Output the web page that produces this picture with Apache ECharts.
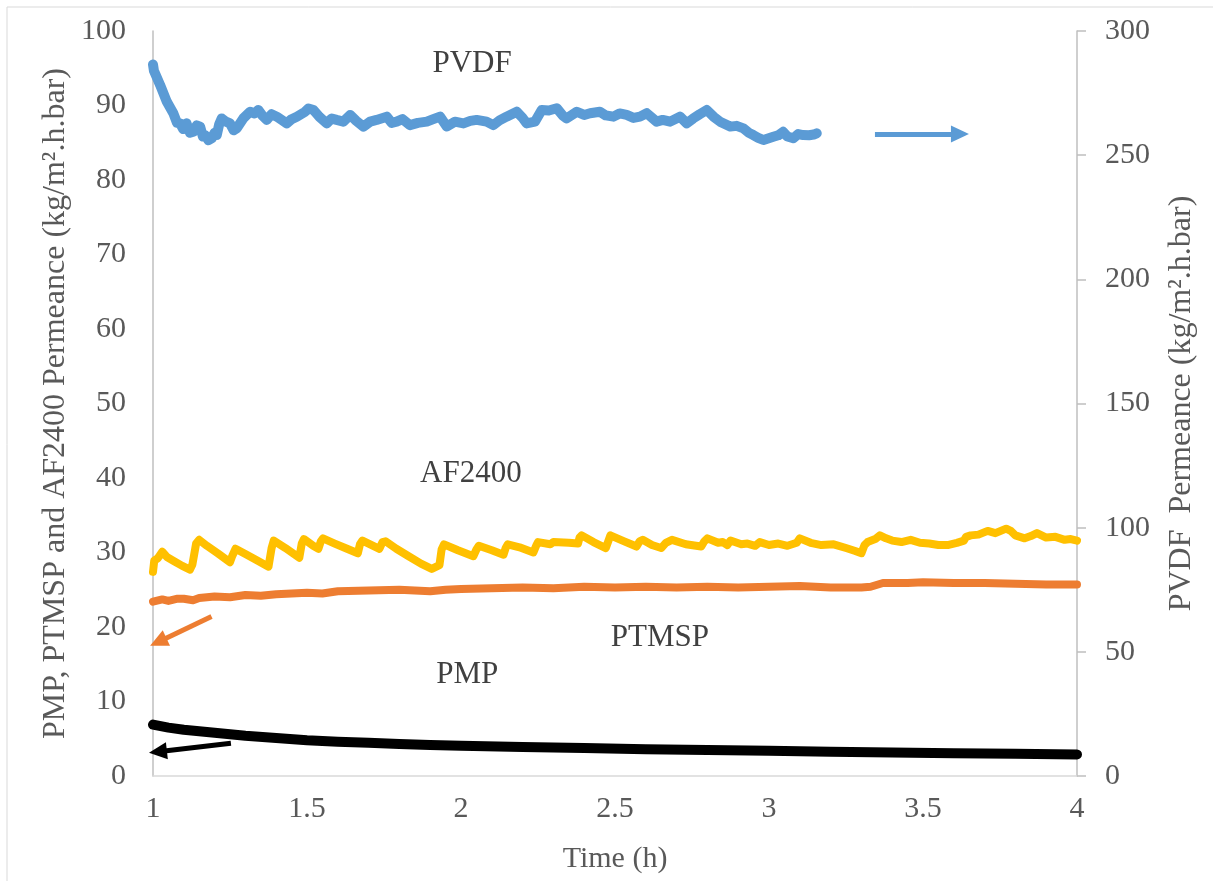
<!DOCTYPE html>
<html lang="en">
  <head>
    <meta charset="UTF-8" />
    <title>Permeance vs Time</title>
    <script src="https://cdn.jsdelivr.net/npm/echarts@6/dist/echarts.min.js"></script>
    <style>
      body {
        margin: 0;
        padding: 0;
        background: #ffffff;
      }
      #chart {
        width: 1213px;
        height: 881px;
      }
    </style>
  </head>
  <body>
    <div id="chart"></div>

    <script>
      // x axis ticks (h)
      var timeTicks = [1, 1.5, 2, 2.5, 3, 3.5, 4];

      // PVDF permeance, right axis [time, value]
      var pvdfData = [
        [1.000, 286.5], [1.003, 284.0], [1.023, 278.3], [1.045, 271.5], [1.066, 266.9],
        [1.078, 263.0], [1.088, 262.8], [1.098, 260.5], [1.109, 262.8], [1.120, 259.0],
        [1.131, 259.4], [1.142, 262.0], [1.153, 261.5], [1.162, 257.5], [1.169, 258.1],
        [1.180, 256.0], [1.191, 256.8], [1.200, 259.0], [1.207, 258.1], [1.215, 262.5],
        [1.223, 264.8], [1.237, 263.5], [1.250, 262.8], [1.262, 260.0], [1.272, 260.8],
        [1.293, 264.8], [1.315, 267.5], [1.330, 266.8], [1.342, 268.2], [1.355, 266.0],
        [1.369, 264.2], [1.385, 266.5], [1.402, 265.5], [1.420, 264.0], [1.434, 262.8],
        [1.450, 264.5], [1.467, 265.5], [1.494, 267.5], [1.505, 268.8], [1.521, 268.2],
        [1.540, 265.5], [1.564, 262.8], [1.580, 264.8], [1.596, 264.2], [1.618, 263.5],
        [1.640, 266.2], [1.660, 263.8], [1.683, 261.5], [1.705, 263.5], [1.726, 264.2],
        [1.759, 265.5], [1.775, 263.0], [1.791, 263.5], [1.810, 264.5], [1.834, 262.1],
        [1.860, 263.0], [1.889, 263.5], [1.910, 264.5], [1.932, 265.5], [1.954, 261.5],
        [1.980, 263.5], [2.008, 262.8], [2.030, 263.8], [2.051, 264.2], [2.083, 263.5],
        [2.105, 262.1], [2.125, 264.0], [2.148, 265.5], [2.181, 267.5], [2.200, 265.0],
        [2.213, 262.8], [2.240, 263.5], [2.262, 268.2], [2.285, 268.0], [2.311, 268.9],
        [2.330, 266.0], [2.343, 264.8], [2.376, 267.5], [2.400, 266.2], [2.419, 266.9],
        [2.451, 267.5], [2.470, 266.0], [2.495, 265.5], [2.515, 266.8], [2.538, 266.2],
        [2.560, 265.0], [2.581, 265.5], [2.603, 266.9], [2.635, 263.5], [2.655, 264.2],
        [2.679, 263.5], [2.711, 265.5], [2.733, 262.8], [2.754, 264.8], [2.775, 266.5],
        [2.798, 268.2], [2.820, 265.5], [2.841, 263.5], [2.874, 261.5], [2.895, 261.8],
        [2.917, 260.8], [2.935, 259.0], [2.949, 258.1], [2.965, 257.0], [2.982, 256.1],
        [3.014, 257.4], [3.030, 258.0], [3.046, 259.4], [3.060, 257.5], [3.079, 256.8],
        [3.095, 258.5], [3.111, 258.1], [3.130, 258.0], [3.145, 258.3], [3.155, 258.8]
      ];

      // AF2400 permeance, left axis [time, value]
      var af2400Data = [
        [1.000, 27.4], [1.004, 28.9], [1.015, 29.2], [1.030, 30.1], [1.045, 29.4],
        [1.070, 28.8], [1.095, 28.2], [1.120, 27.7], [1.128, 28.4], [1.140, 31.2],
        [1.150, 31.7], [1.175, 30.9], [1.210, 29.9], [1.250, 28.7], [1.258, 29.6],
        [1.268, 30.5], [1.300, 29.8], [1.340, 28.9], [1.375, 28.1], [1.385, 30.6],
        [1.392, 31.6], [1.430, 30.6], [1.475, 29.3], [1.483, 31.2], [1.490, 31.8],
        [1.520, 30.9], [1.537, 30.5], [1.545, 31.5], [1.552, 31.9], [1.590, 31.2],
        [1.630, 30.5], [1.665, 29.9], [1.672, 31.1], [1.680, 31.6], [1.710, 31.0],
        [1.735, 30.5], [1.745, 31.4], [1.755, 31.5], [1.790, 30.5], [1.830, 29.5],
        [1.870, 28.5], [1.905, 27.8], [1.930, 28.3], [1.937, 30.4], [1.945, 31.1],
        [1.990, 30.3], [2.040, 29.5], [2.050, 30.4], [2.058, 30.9], [2.100, 30.3],
        [2.138, 29.7], [2.145, 30.6], [2.152, 31.1], [2.190, 30.7], [2.235, 30.0],
        [2.245, 31.0], [2.250, 31.4], [2.290, 31.1], [2.300, 31.4], [2.350, 31.3],
        [2.380, 31.2], [2.385, 32.0], [2.392, 32.3], [2.430, 31.4], [2.470, 30.6],
        [2.478, 31.5], [2.485, 32.3], [2.530, 31.5], [2.570, 30.8], [2.580, 31.5],
        [2.590, 31.7], [2.620, 31.0], [2.650, 30.6], [2.665, 31.3], [2.685, 31.7],
        [2.730, 31.1], [2.780, 30.8], [2.790, 31.5], [2.800, 31.9], [2.835, 31.3],
        [2.850, 31.4], [2.865, 31.0], [2.875, 31.6], [2.910, 31.1], [2.930, 31.2],
        [2.955, 30.9], [2.970, 31.4], [3.000, 31.0], [3.030, 31.2], [3.060, 30.9],
        [3.090, 31.3], [3.100, 31.9], [3.135, 31.3], [3.170, 31.0], [3.210, 31.1],
        [3.250, 30.6], [3.280, 30.2], [3.300, 29.9], [3.310, 31.0], [3.320, 31.4],
        [3.345, 31.8], [3.360, 32.3], [3.380, 31.9], [3.400, 31.6], [3.430, 31.4],
        [3.460, 31.7], [3.490, 31.3], [3.520, 31.2], [3.550, 31.0], [3.580, 31.0],
        [3.610, 31.3], [3.633, 31.6], [3.640, 32.1], [3.655, 32.3], [3.680, 32.4],
        [3.710, 32.9], [3.735, 32.6], [3.770, 33.2], [3.785, 32.9], [3.800, 32.3],
        [3.830, 31.9], [3.850, 32.2], [3.870, 32.6], [3.900, 32.0], [3.930, 32.1],
        [3.960, 31.7], [3.980, 31.8], [4.000, 31.6]
      ];

      // PTMSP permeance, left axis [time, value]
      var ptmspData = [
        [1.00, 23.4], [1.03, 23.7], [1.05, 23.5], [1.08, 23.8], [1.10, 23.8],
        [1.13, 23.6], [1.15, 23.9], [1.20, 24.1], [1.25, 24.0], [1.30, 24.3],
        [1.35, 24.2], [1.40, 24.4], [1.45, 24.5], [1.50, 24.6], [1.55, 24.5],
        [1.60, 24.8], [1.70, 24.9], [1.80, 25.0], [1.90, 24.8], [1.95, 25.0],
        [2.00, 25.1], [2.10, 25.2], [2.20, 25.3], [2.30, 25.2], [2.40, 25.4],
        [2.50, 25.3], [2.60, 25.4], [2.70, 25.3], [2.80, 25.4], [2.90, 25.3],
        [3.00, 25.4], [3.10, 25.5], [3.20, 25.3], [3.30, 25.3], [3.33, 25.4],
        [3.37, 25.9], [3.45, 25.9], [3.50, 26.0], [3.60, 25.9], [3.70, 25.9],
        [3.80, 25.8], [3.90, 25.7], [4.00, 25.7]
      ];

      // PMP permeance, left axis [time, value]
      var pmpData = [
        [1.00, 6.9], [1.05, 6.5], [1.10, 6.2], [1.20, 5.8], [1.30, 5.4],
        [1.40, 5.1], [1.50, 4.8], [1.60, 4.6], [1.70, 4.45], [1.80, 4.3],
        [1.90, 4.15], [2.00, 4.05], [2.20, 3.9], [2.40, 3.75], [2.60, 3.6],
        [2.80, 3.5], [3.00, 3.4], [3.20, 3.25], [3.40, 3.15], [3.60, 3.05],
        [3.80, 3.0], [4.00, 2.9]
      ];

      // arrows pointing to the axis each curve belongs to: [from, to]
      var pvdfArrow = [[3.344, 258.5], [3.62, 258.5]];
      var ptmspArrow = [[1.19, 21.4], [1.017, 18.0]];
      var pmpArrow = [[1.253, 4.39], [1.016, 3.26]];

      // curve names placed in the plot
      var pvdfLabel = [2.036, 286.7];
      var af2400Label = [2.032, 40.5];
      var ptmspLabel = [2.646, 18.5];
      var pmpLabel = [2.02, 13.6];

      var serif = '"Liberation Serif", "Times New Roman", serif';

      function arrow(pair, color) {
        return {
          silent: true,
          symbol: ['none', 'triangle'],
          symbolSize: [17, 18],
          label: { show: false },
          lineStyle: { color: color, width: 5, type: 'solid' },
          data: [[{ coord: pair[0] }, { coord: pair[1] }]]
        };
      }

      function nameTag(pos, text) {
        return {
          silent: true,
          symbol: 'circle',
          symbolSize: 0,
          itemStyle: { color: 'transparent' },
          label: {
            show: true,
            position: 'inside',
            formatter: text,
            color: '#404040',
            fontFamily: serif,
            fontSize: 31
          },
          data: [{ coord: pos }]
        };
      }

      function lineSeries(name, data, color, width, yIndex) {
        return {
          name: name,
          type: 'line',
          yAxisIndex: yIndex,
          data: data,
          showSymbol: false,
          smooth: false,
          lineStyle: { color: color, width: width, cap: 'round', join: 'round' },
          itemStyle: { color: color },
          z: 3
        };
      }

      var chart = echarts.init(document.getElementById('chart'));

      var pvdf = lineSeries('PVDF', pvdfData, '#5b9bd5', 10, 1);
      pvdf.markLine = arrow(pvdfArrow, '#5b9bd5');
      pvdf.markPoint = nameTag(pvdfLabel, 'PVDF');

      var af = lineSeries('AF2400', af2400Data, '#ffc000', 8, 0);
      af.markPoint = nameTag(af2400Label, 'AF2400');

      var ptmsp = lineSeries('PTMSP', ptmspData, '#ed7d31', 8, 0);
      ptmsp.markLine = arrow(ptmspArrow, '#ed7d31');
      ptmsp.markPoint = nameTag(ptmspLabel, 'PTMSP');

      var pmp = lineSeries('PMP', pmpData, '#000000', 10, 0);
      pmp.markLine = arrow(pmpArrow, '#000000');
      pmp.markPoint = nameTag(pmpLabel, 'PMP');

      var option = {
        animation: false,
        backgroundColor: '#ffffff',
        textStyle: { fontFamily: serif },
        graphic: [
          {
            type: 'rect',
            shape: { x: 7, y: 7, width: 1230, height: 900 },
            style: { fill: 'none', stroke: '#d9d9d9', lineWidth: 1 },
            silent: true
          }
        ],
        grid: { left: 153, right: 136, top: 31, bottom: 105 },
        xAxis: {
          type: 'value',
          min: timeTicks[0],
          max: timeTicks[timeTicks.length - 1],
          interval: 0.5,
          name: 'Time (h)',
          nameLocation: 'middle',
          nameGap: 68,
          nameMoveOverlap: false,
          nameTextStyle: { color: '#595959', fontSize: 30, fontFamily: serif },
          axisLine: { lineStyle: { color: '#d9d9d9', width: 1.5 } },
          axisTick: { show: false },
          splitLine: { show: false },
          axisLabel: { color: '#595959', fontSize: 30, fontFamily: serif, margin: 18 }
        },
        yAxis: [
          {
            type: 'value',
            min: 0,
            max: 100,
            interval: 10,
            position: 'left',
            name: 'PMP, PTMSP and AF2400 Permeance (kg/m\u00b2.h.bar)',
            nameLocation: 'middle',
            nameGap: 81,
            nameMoveOverlap: false,
            nameTextStyle: { color: '#595959', fontSize: 32, fontFamily: serif },
            axisLine: { show: true, lineStyle: { color: '#bfbfbf', width: 1.5 } },
            axisTick: { show: false },
            splitLine: { show: false },
            axisLabel: { color: '#595959', fontSize: 30, fontFamily: serif, margin: 27 }
          },
          {
            type: 'value',
            min: 0,
            max: 300,
            interval: 50,
            position: 'right',
            name: 'PVDF  Permeance (kg/m\u00b2.h.bar)',
            nameLocation: 'middle',
            nameGap: 89,
            nameMoveOverlap: false,
            nameTextStyle: { color: '#595959', fontSize: 32, fontFamily: serif },
            axisLine: { show: true, lineStyle: { color: '#bfbfbf', width: 1.5 } },
            axisTick: { show: true, length: 9, lineStyle: { color: '#bfbfbf', width: 1.5 } },
            splitLine: { show: false },
            axisLabel: { color: '#595959', fontSize: 30, fontFamily: serif, margin: 28 }
          }
        ],
        series: [pvdf, af, ptmsp, pmp]
      };

      chart.setOption(option);
    </script>
  </body>
</html>
